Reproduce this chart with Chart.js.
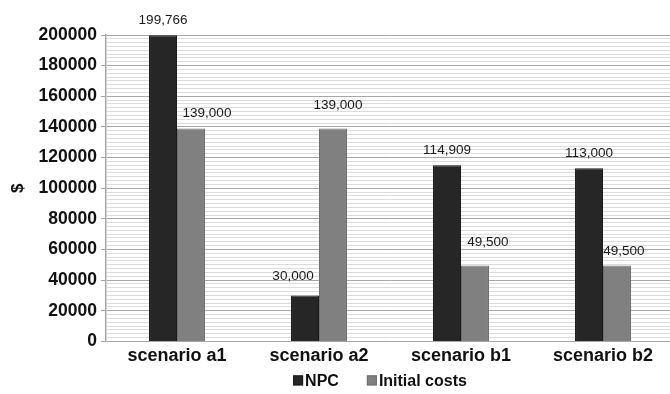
<!DOCTYPE html>
<html>
<head>
<meta charset="utf-8">
<script src="https://cdn.jsdelivr.net/npm/chart.js@4/dist/chart.umd.min.js"></script>
<style>
  html, body { margin: 0; padding: 0; background: #fff; overflow: hidden; }
  #wrap { width: 674px; height: 394px; }
</style>
</head>
<body>
<div id="wrap"><canvas id="c" width="674" height="394"></canvas></div>
<script>
// Cost comparison per scenario
const scenarios = ['scenario a1', 'scenario a2', 'scenario b1', 'scenario b2'];
const npcValues = [199766, 30000, 114909, 113000];
const initialCostValues = [139000, 139000, 49500, 49500];
const seriesNames = ['NPC', 'Initial costs'];
const yMax = 200000;
const yLabelStep = 20000;
const yLineStep = 2500;

// Small per-label nudges [dx, rise above bar top] for the value labels
const labelNudges = [
  [[0, 15], [-12, 19], [0, 15], [0, 15]],
  [[16, 15], [5, 23], [13, 23], [7, 14]]
];

const FONT = '"Liberation Sans", Arial, Helvetica, sans-serif';

const valueLabels = {
  id: 'valueLabels',
  afterDatasetsDraw(chart) {
    const ctx = chart.ctx;
    ctx.save();
    ctx.font = '13.5px ' + FONT;
    ctx.fillStyle = '#1a1a1a';
    ctx.textAlign = 'center';
    ctx.textBaseline = 'middle';
    chart.data.datasets.forEach((ds, di) => {
      const meta = chart.getDatasetMeta(di);
      meta.data.forEach((bar, i) => {
        const [dx, rise] = labelNudges[di][i];
        ctx.fillText(ds.data[i].toLocaleString('en-US'), bar.x + dx, bar.y - rise);
      });
    });
    ctx.restore();
  }
};

// Compact legend below the axis: square swatch hugging its label
const compactLegend = {
  id: 'compactLegend',
  afterDraw(chart) {
    const ctx = chart.ctx;
    const box = 10, textGap = 2, itemGap = 28;
    ctx.save();
    ctx.font = 'bold 16px ' + FONT;
    ctx.textBaseline = 'middle';
    ctx.textAlign = 'left';
    const items = chart.data.datasets.map(ds => ({
      text: ds.label, color: ds.backgroundColor, border: ds.borderColor,
      w: box + textGap + ctx.measureText(ds.label).width
    }));
    const total = items.reduce((s, it) => s + it.w, 0) + itemGap * (items.length - 1);
    const cx = (chart.chartArea.left + chart.chartArea.right) / 2 - 10;
    const cy = chart.chartArea.bottom + 39;
    let x = cx - total / 2;
    items.forEach(it => {
      ctx.fillStyle = it.color;
      ctx.fillRect(x, cy - box / 2, box, box);
      ctx.strokeStyle = it.border;
      ctx.lineWidth = 1;
      ctx.strokeRect(x + 0.5, cy - box / 2 + 0.5, box - 1, box - 1);
      ctx.fillStyle = '#111';
      ctx.fillText(it.text, x + box + textGap, cy + 1);
      x += it.w + itemGap;
    });
    ctx.restore();
  }
};

new Chart(document.getElementById('c'), {
  type: 'bar',
  data: {
    labels: scenarios,
    datasets: [
      {
        label: seriesNames[0],
        data: npcValues,
        backgroundColor: '#262626',
        borderColor: '#1a1a1a',
        borderWidth: 1,
        barPercentage: 1,
        categoryPercentage: 0.394
      },
      {
        label: seriesNames[1],
        data: initialCostValues,
        backgroundColor: '#808080',
        borderColor: '#6e6e6e',
        borderWidth: 1,
        barPercentage: 1,
        categoryPercentage: 0.394
      }
    ]
  },
  options: {
    responsive: false,
    animation: false,
    devicePixelRatio: 1,
    layout: { padding: { top: 35, left: 0, right: 0, bottom: 23 } },
    plugins: {
      tooltip: { enabled: false },
      legend: { display: false }
    },
    scales: {
      x: {
        grid: { display: false, tickLength: 0 },
        border: { display: false },
        ticks: {
          color: '#111',
          padding: 4,
          font: { family: FONT, size: 18, weight: 'bold' }
        }
      },
      y: {
        min: 0,
        max: yMax,
        afterFit(scale) { scale.width = 106; },
        border: { color: '#a8a8a8', width: 1.5 },
        title: {
          display: true,
          text: '$',
          color: '#111',
          padding: { top: 8, bottom: 0 },
          font: { family: FONT, size: 17, weight: 'bold' }
        },
        grid: {
          tickLength: 5,
          color: c => (c.tick && c.tick.value % yLabelStep === 0) ? '#a8a8a8' : '#dcdcdc',
          tickColor: c => (c.tick && c.tick.value % yLabelStep === 0) ? '#a8a8a8' : 'rgba(0,0,0,0)'
        },
        ticks: {
          stepSize: yLineStep,
          autoSkip: false,
          padding: 4,
          color: '#111',
          font: { family: FONT, size: 17.5, weight: 'bold' },
          callback: v => (v % yLabelStep === 0) ? String(v) : ''
        }
      }
    }
  },
  plugins: [valueLabels, compactLegend]
});
</script>
</body>
</html>
